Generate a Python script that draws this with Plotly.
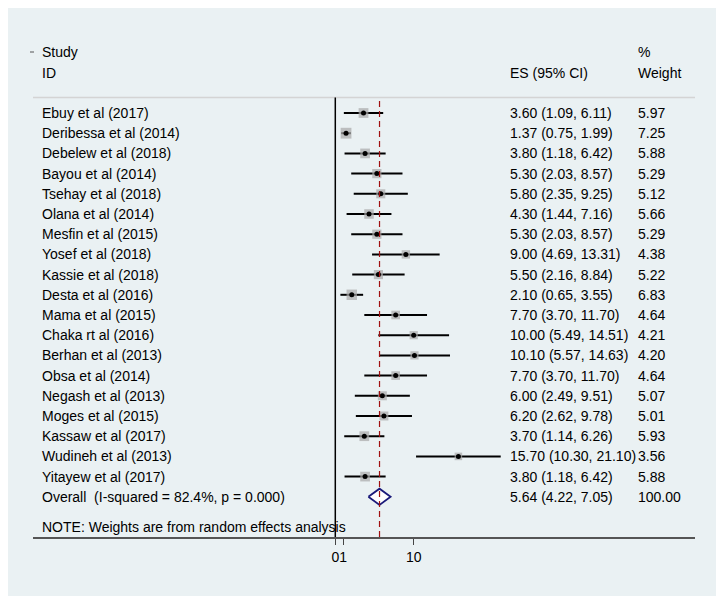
import plotly.graph_objects as go

studies = ["Ebuy et al (2017)", "Deribessa et al (2014)", "Debelew et al (2018)",
           "Bayou et al (2014)", "Tsehay et al (2018)", "Olana et al (2014)",
           "Mesfin et al (2015)", "Yosef et al (2018)", "Kassie et al (2018)",
           "Desta et al (2016)", "Mama et al (2015)", "Chaka rt al (2016)",
           "Berhan et al (2013)", "Obsa et al (2014)", "Negash et al (2013)",
           "Moges et al (2015)", "Kassaw et al (2017)", "Wudineh et al (2013)",
           "Yitayew et al (2017)"]
es = [3.60, 1.37, 3.80, 5.30, 5.80, 4.30, 5.30, 9.00, 5.50, 2.10, 7.70, 10.00,
      10.10, 7.70, 6.00, 6.20, 3.70, 15.70, 3.80]
lo = [1.09, 0.75, 1.18, 2.03, 2.35, 1.44, 2.03, 4.69, 2.16, 0.65, 3.70, 5.49,
      5.57, 3.70, 2.49, 2.62, 1.14, 10.30, 1.18]
hi = [6.11, 1.99, 6.42, 8.57, 9.25, 7.16, 8.57, 13.31, 8.84, 3.55, 11.70, 14.51,
      14.63, 11.70, 9.51, 9.78, 6.26, 21.10, 6.42]
weights = [5.97, 7.25, 5.88, 5.29, 5.12, 5.66, 5.29, 4.38, 5.22, 6.83, 4.64, 4.21,
           4.20, 4.64, 5.07, 5.01, 5.93, 3.56, 5.88]
overall_label = "Overall  (I-squared = 82.4%, p = 0.000)"
overall_es, overall_lo, overall_hi, overall_w = 5.64, 4.22, 7.05, 100.00
note = "NOTE: Weights are from random effects analysis"
x_ticks = [0, 1, 10]

OFF = 8  # page body margin
W, H = 726 - OFF, 606 - OFF
L, R, T, B = 33 - OFF, 695 - OFF, 32 - OFF, 537 - OFF
x0_px, ppu = 335.3 - OFF, 7.84
xr = [(L - x0_px) / ppu, (R - x0_px) / ppu]
row0_px, row_step = 113 - OFF, 20.2
yr = [(B - row0_px) / row_step, (T - row0_px) / row_step]

def px(p):
    return (p - OFF - L) / (R - L)

def py(p):
    return (B - (p - OFF)) / (B - T)

font = dict(family="Liberation Sans, Arial, sans-serif", size=14, color="black")
n = len(studies)
rows = list(range(n))
fig = go.Figure()

for i in rows:
    fig.add_trace(go.Scatter(x=[lo[i], hi[i]], y=[i, i], mode="lines",
                             line=dict(color="black", width=2), hoverinfo="skip",
                             showlegend=False))
fig.add_trace(go.Scatter(x=es, y=rows, mode="markers",
                         marker=dict(symbol="square", color="#a8a8a8",
                                     size=[4.0 * w ** 0.5 for w in weights],
                                     line=dict(width=0)),
                         showlegend=False, hoverinfo="skip"))
fig.add_trace(go.Scatter(x=es, y=rows, mode="markers",
                         marker=dict(symbol="circle", color="black", size=5),
                         showlegend=False, hoverinfo="skip"))
h = 0.4
fig.add_trace(go.Scatter(x=[overall_lo, overall_es, overall_hi, overall_es, overall_lo],
                         y=[n, n - h, n, n + h, n], mode="lines",
                         line=dict(color="#1a1a7a", width=1.8),
                         fill="toself", fillcolor="white",
                         showlegend=False, hoverinfo="skip"))

shapes = []
shapes.append(dict(type="rect", xref="paper", yref="paper",
                   x0=px(6), x1=px(716), y0=py(596), y1=py(6),
                   fillcolor="#eaf1f3", line=dict(width=0), layer="below"))
sep_px = 97.5
shapes.append(dict(type="line", xref="paper", yref="paper", x0=0, x1=1,
                   y0=py(sep_px), y1=py(sep_px), line=dict(color="#d4d4d4", width=1.5)))
shapes.append(dict(type="line", xref="x", yref="paper", x0=0, x1=0,
                   y0=0, y1=py(sep_px), line=dict(color="black", width=1.5)))
shapes.append(dict(type="line", xref="x", yref="paper", x0=overall_es, x1=overall_es,
                   y0=0, y1=py(sep_px), line=dict(color="#a01010", width=1.2, dash="6px,4px")))
shapes.append(dict(type="line", xref="paper", yref="paper", x0=px(30), x1=px(34),
                   y0=py(52), y1=py(52), line=dict(color="#555", width=1)))

ann = []
def text(xp, y, s):
    ann.append(dict(x=px(xp), xref="paper", y=y, yref="y", text=s, showarrow=False,
                    xanchor="left", yanchor="middle", font=font))

text(40, -3, "Study")
text(40, -2, "ID")
text(508, -2, "ES (95% CI)")
text(636, -3, "%")
text(636, -2, "Weight")
for i in rows:
    text(40, i, studies[i])
    text(508, i, f"{es[i]:.2f} ({lo[i]:.2f}, {hi[i]:.2f})")
    text(636, i, f"{weights[i]:.2f}")
text(40, n, overall_label)
text(508, n, f"{overall_es:.2f} ({overall_lo:.2f}, {overall_hi:.2f})")
text(636, n, f"{overall_w:.2f}")
text(40, n + 1.5, note)

fig.update_layout(
    width=W, height=H,
    margin=dict(l=L, r=W - R, t=T, b=H - B, pad=0),
    paper_bgcolor="white", plot_bgcolor="white",
    shapes=shapes, annotations=ann, font=font,
    xaxis=dict(range=xr, tickvals=x_ticks, ticktext=[str(v) for v in x_ticks],
               ticks="outside", ticklen=6, tickcolor="#444", tickwidth=1,
               tickangle=0, automargin=False,
               showline=True, linecolor="#555", linewidth=2, showgrid=False,
               zeroline=False, tickfont=font, fixedrange=True),
    yaxis=dict(range=yr, showticklabels=False, showgrid=False, zeroline=False,
               showline=False, ticks="", fixedrange=True, automargin=False),
)
fig.write_html("out.html")
